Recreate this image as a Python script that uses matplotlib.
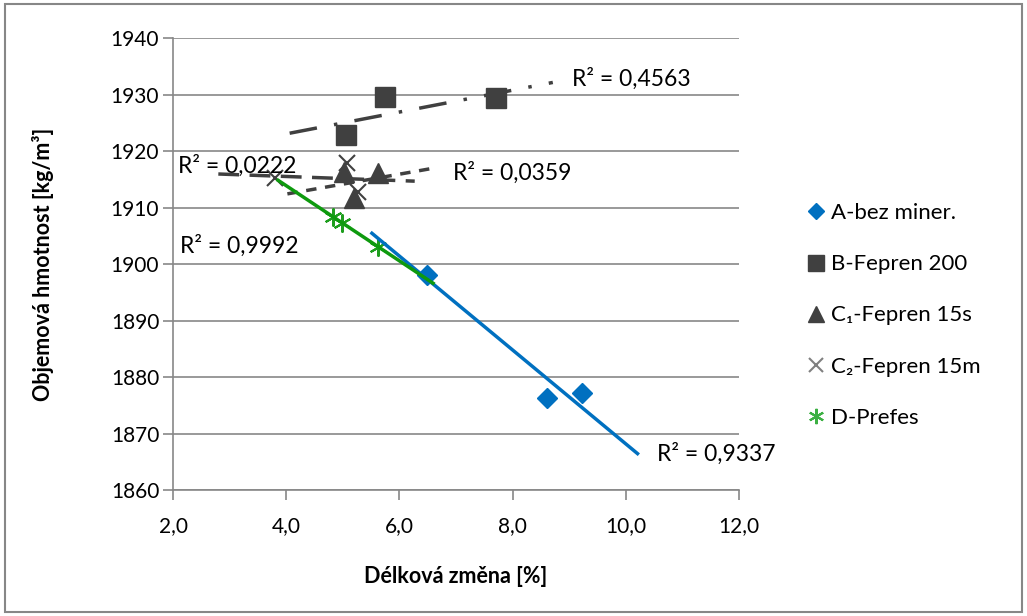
import numpy as np
import matplotlib
matplotlib.use('Agg')
import matplotlib.pyplot as plt

plt.rcParams['font.family'] = ['Lato', 'DejaVu Sans']

# data
a_x = [6.49, 8.61, 9.23]
a_y = [1898.1, 1876.3, 1877.2]
b_x = [5.06, 5.75, 7.71]
b_y = [1922.8, 1929.5, 1929.4]
c1_x = [5.02, 5.62, 5.20]
c1_y = [1916.2, 1916.1, 1911.6]
c2_x = [3.80, 5.07, 5.27]
c2_y = [1915.2, 1917.8, 1912.7]
d_x = [4.83, 4.99, 5.62]
d_y = [1908.4, 1907.2, 1903.1]

names = ['A-bez miner.', 'B-Fepren 200', 'C\u2081-Fepren 15s', 'C\u2082-Fepren 15m', 'D-Prefes']
r2_labels = ['R\u00b2 = 0,9337', 'R\u00b2 = 0,4563', 'R\u00b2 = 0,0359', 'R\u00b2 = 0,0222', 'R\u00b2 = 0,9992']

xticks = [2, 4, 6, 8, 10, 12]
yticks = [1860, 1870, 1880, 1890, 1900, 1910, 1920, 1930, 1940]

fig = plt.figure(figsize=(10.27, 6.16), dpi=100)
ax = fig.add_axes([0.1685, 0.2045, 0.5511, 0.7338])

grey = '#404040'
series = [
    (a_x, a_y, dict(marker='D', color='#0070C0', ms=10, mec='#0070C0'), dict(color='#0070C0', lw=2.5, ls='-')),
    (b_x, b_y, dict(marker='s', color=grey, ms=14, mec=grey), dict(color=grey, lw=2.5, ls=(0, (8, 5, 1, 5)))),
    (c1_x, c1_y, dict(marker='^', color=grey, ms=14, mec=grey), dict(color=grey, lw=2.5, ls=(0, (3, 2.5)))),
    (c2_x, c2_y, dict(marker='x', color=grey, ms=12, mew=1.5), dict(color=grey, lw=2.5, ls=(0, (6, 3)))),
    (d_x, d_y, dict(marker=(6, 2, 0), color='#1E9E1E', ms=13, mew=1.5), dict(color='#0E9A0E', lw=2.5, ls='-')),
]

handles = []
for (xs, ys, mk, tl), name in zip(series, names):
    h, = ax.plot(xs, ys, ls='none', label=name, zorder=3, **mk)
    handles.append(h)
    k, q = np.polyfit(xs, ys, 1)
    tx = np.array([min(xs) - 1, max(xs) + 1])
    ax.plot(tx, k * tx + q, zorder=4, solid_capstyle='butt', dash_capstyle='butt', **tl)

label_pos = [(10.55, 1866.5), (9.05, 1932.8), (6.95, 1916.1), (2.08, 1917.4), (2.12, 1903.3)]
for (lx, ly), s in zip(label_pos, r2_labels):
    ax.text(lx, ly, s, fontsize=16.5, color='#000000', va='center', ha='left')

ax.set_xlim(2, 12)
ax.set_ylim(1860, 1940)
ax.set_xticks(xticks)
ax.set_xticklabels([('%.1f' % v).replace('.', ',') for v in xticks], fontsize=15)
ax.set_yticks(yticks)
ax.set_yticklabels([str(v) for v in yticks], fontsize=15)
ax.yaxis.grid(True, color='#878787', lw=1.2)
ax.set_axisbelow(True)
for s in ['top', 'right']:
    ax.spines[s].set_visible(False)
for s in ['left', 'bottom']:
    ax.spines[s].set_color('#878787')
    ax.spines[s].set_linewidth(1.2)
ax.tick_params(axis='both', direction='out', length=7, color='#878787', width=1.2)
ax.tick_params(axis='y', pad=3)
ax.tick_params(axis='x', pad=12)
ax.set_xlabel('Délková změna [%]', fontsize=15.5, fontweight='bold', labelpad=21)
ax.set_ylabel('Objemová hmotnost [kg/m\u00b3]', fontsize=15.5, fontweight='bold', labelpad=41)

leg_h = []
for h in handles:
    lh, = ax.plot([], [], ls='none', marker=h.get_marker(), color=h.get_color(), ms=h.get_markersize() * 0.85, mew=h.get_markeredgewidth())
    leg_h.append(lh)
leg_h[3].set_color('#808080')
leg_h[4].set_color('#3CB043')
fig.legend(leg_h, names, loc='center left', bbox_to_anchor=(0.766, 0.488), frameon=False,
           fontsize=16, handlelength=0.8, handletextpad=0.3, labelspacing=1.4)

fig.patches.append(plt.Rectangle((0.005, 0.006), 0.99, 0.988, transform=fig.transFigure,
                                 fill=False, ec='#878787', lw=1.5))

fig.savefig('out.png', dpi=100)
